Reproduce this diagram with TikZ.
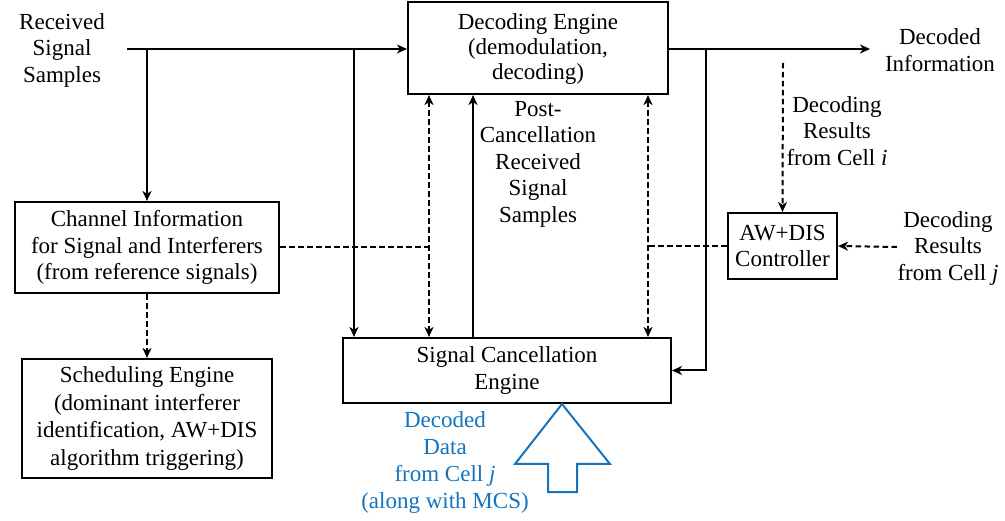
\documentclass[tikz,border=0pt]{standalone}
\usepackage{fontspec}
\setmainfont{Liberation Serif}
\usetikzlibrary{arrows.meta}
\definecolor{dataBlue}{RGB}{20,115,190}

\begin{document}
\begin{tikzpicture}[x=1pt, y=-1pt, >={Stealth[length=10pt,width=9pt,inset=3pt]}, every node/.style={align=center, inner sep=0pt, font=\fontsize{23}{26.5}\selectfont}, block/.style={draw, line width=2.1pt}, every path/.style={line width=2pt}, dots/.style={dash pattern=on 5.5pt off 3.5pt}]

    \useasboundingbox (0,0) rectangle (1005,521);

    % Nodes
    \node[block, minimum width=260pt, minimum height=92pt, font=\fontsize{23}{25}\selectfont] (dec) at (538,48) {\strut Decoding Engine\\(demodulation,\\decoding)};
    \node[block, minimum width=328pt, minimum height=65pt] (sce) at (507,370.5) {Signal Cancellation\\Engine};
    \node[block, minimum width=264pt, minimum height=91pt] (chi) at (147,247.5) {Channel Information\\for Signal and Interferers\\(from reference signals)};
    \node[block, minimum width=250pt, minimum height=119pt, font=\fontsize{23}{27.5}\selectfont] (sch) at (147,418.5) {Scheduling Engine\\(dominant interferer\\identification, AW+DIS\\algorithm triggering)};
    \node[block, minimum width=109pt, minimum height=66pt] (awc) at (782.5,246) {AW+DIS\\Controller};

    % Labels
    \node (rx) at (62,50) {Received\\Signal\\Samples};
    \node (dout) at (940,50) {Decoded\\Information};
    \node (resi) at (837,131) {Decoding\\Results\\from Cell \textit{i}};
    \node (resj) at (948,248) {Decoding\\Results\\from Cell \textit{j}};
    \node (post) at (538,164) {Post-\\Cancellation\\Received\\Signal\\Samples};
    \node[text=dataBlue, font=\fontsize{23}{27}\selectfont] (dat) at (445,463) {Decoded\\Data\\from Cell \textit{j}\\(along with MCS)};

    % Junctions
    \coordinate (src) at (127,49);
    \coordinate (tap1) at (147,49);
    \coordinate (tap2) at (354,49);
    \coordinate (tap3) at (706,49);
    \coordinate (sink) at (870,49);
    \coordinate (fb1) at (429,0);
    \coordinate (up) at (473,0);
    \coordinate (fb2) at (648,0);
    \coordinate (ri) at (783,63);
    \coordinate (rj) at (897,247);

    % Edges
    \draw[->] (src) -- (src -| dec.west);
    \draw[->] (tap1) -- (chi.north);
    \draw[->] (tap2) -- (tap2 |- sce.north);
    \draw[->] (dec.east |- sink) -- (sink);
    \draw[->] (tap3) |- (sce.east);
    \draw[->] (up |- sce.north) -- (up |- dec.south);
    \draw[dots, <->] (fb1 |- dec.south) -- (fb1 |- sce.north);
    \draw[dots, <->] (fb2 |- dec.south) -- (fb2 |- sce.north);
    \draw[dots] (chi.east) -- (chi.east -| fb1);
    \draw[dots] (awc.west) -- (awc.west -| fb2);
    \draw[dots, ->] (ri) -- (awc.north);
    \draw[dots, ->] (rj) -- (awc.east);
    \draw[dots, ->] (chi.south) -- (sch.north);

    % Block arrow for data from cell j
    \draw[dataBlue, line width=2pt, line join=miter] (562,404) -- (610,464) -- (577,464) -- (577,492) -- (548,492) -- (548,464) -- (515,464) -- cycle;

\end{tikzpicture}
\end{document}
